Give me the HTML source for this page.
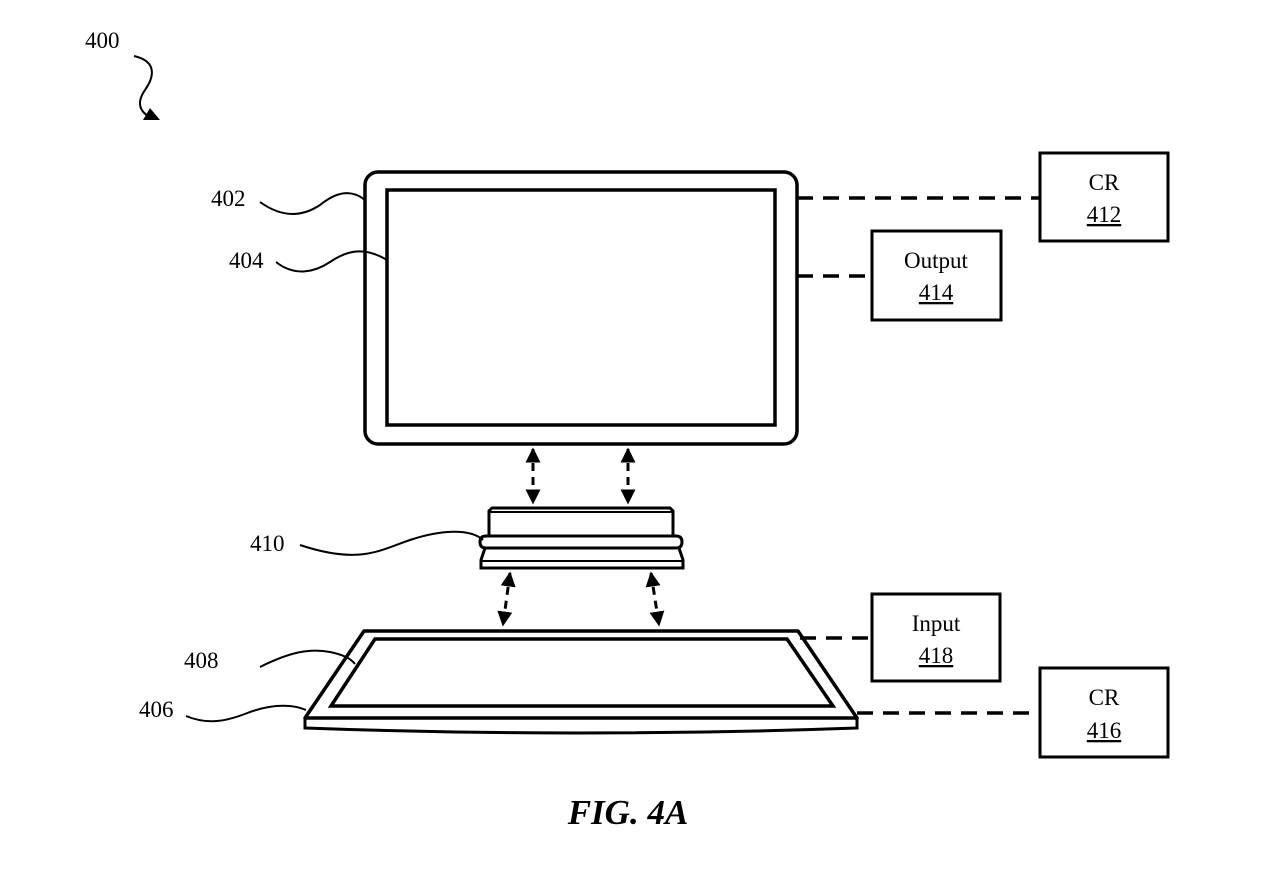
<!DOCTYPE html>
<html><head><meta charset="utf-8"><style>
html,body{margin:0;padding:0;background:#fff;}
svg{display:block;}
text{font-family:"Liberation Serif",serif;font-size:23px;fill:#000;}
</style></head><body>
<svg width="1274" height="876" viewBox="0 0 1274 876" xmlns="http://www.w3.org/2000/svg">
<defs>
<marker id="ah" viewBox="0 0 10 10" refX="9" refY="5" markerWidth="5" markerHeight="5" orient="auto-start-reverse"><path d="M0,0 L10,5 L0,10 z" fill="#000"/></marker>
</defs>
<g fill="none" stroke="#000">
<path d="M134,56 C160,62 152,80 145,90 C136,103 140,112 150,117" stroke-width="2"/>
<path d="M143,120 L160,120 L150,108 z" fill="#000" stroke="none"/>
<rect x="365" y="172" width="432" height="272" rx="13" stroke-width="3.5"/>
<rect x="387" y="190" width="388" height="235" stroke-width="3.5"/>
<path d="M260,202 C285,220 305,215 320,205 C335,193 350,188 365,200" stroke-width="2"/>
<path d="M276,262 C295,277 315,272 330,262 C345,252 362,245 387,260" stroke-width="2"/>
<path d="M300,545 C360,565 380,550 410,540 C440,530 470,528 483,540" stroke-width="2"/>
<path d="M260,667 C290,652 310,648 330,652 C345,655 352,660 355,664" stroke-width="2"/>
<path d="M186,716 C210,726 230,720 250,712 C275,703 295,705 306,710" stroke-width="2"/>
<path d="M797,198 H1040" stroke-width="3.5" stroke-dasharray="16,10"/>
<path d="M797,276 H871" stroke-width="3.5" stroke-dasharray="16,10"/>
<path d="M800,638 H871" stroke-width="3.5" stroke-dasharray="16,10"/>
<path d="M857,713 H1040" stroke-width="3.5" stroke-dasharray="16,10"/>
<rect x="1040" y="153" width="128" height="88" stroke-width="3"/>
<rect x="872" y="231" width="129" height="89" stroke-width="3"/>
<rect x="872" y="594" width="128" height="87" stroke-width="3"/>
<rect x="1040" y="668" width="128" height="89" stroke-width="3"/>
<path d="M533,449 V503" stroke-width="3" stroke-dasharray="8,6" marker-start="url(#ah)" marker-end="url(#ah)"/>
<path d="M628,449 V503" stroke-width="3" stroke-dasharray="8,6" marker-start="url(#ah)" marker-end="url(#ah)"/>
<path d="M510,573 L503,625" stroke-width="3" stroke-dasharray="8,6" marker-start="url(#ah)" marker-end="url(#ah)"/>
<path d="M651,573 L659,625" stroke-width="3" stroke-dasharray="8,6" marker-start="url(#ah)" marker-end="url(#ah)"/>
<path d="M489,535 V511 L492,508 H670 L673,511 V535" stroke-width="3"/>
<path d="M489,512 H673" stroke-width="2"/>
<path d="M486,536 H676 Q682,536 682,542 Q682,548 676,548 H486 Q480,548 480,542 Q480,536 486,536 z" stroke-width="3"/>
<path d="M485,548 L481,560 V568 H683 V560 L679,548" stroke-width="3"/>
<path d="M481,561 H683" stroke-width="2"/>
<path d="M364,631 H798 L857,718 H305 z" stroke-width="3.5" stroke-linejoin="round"/>
<path d="M375,639 H787 L833,706 H331 z" stroke-width="3.5"/>
<path d="M305,718 V728 Q580,738 857,728 V718" stroke-width="3"/>
</g>
<text x="85" y="48">400</text>
<text x="211" y="206">402</text>
<text x="229" y="268">404</text>
<text x="250" y="551">410</text>
<text x="184" y="668">408</text>
<text x="139" y="717">406</text>
<text x="1104" y="190" text-anchor="middle">CR</text>
<text x="1104" y="222" text-anchor="middle" text-decoration="underline">412</text>
<text x="936" y="268" text-anchor="middle">Output</text>
<text x="936" y="300" text-anchor="middle" text-decoration="underline">414</text>
<text x="936" y="631" text-anchor="middle">Input</text>
<text x="936" y="663" text-anchor="middle" text-decoration="underline">418</text>
<text x="1104" y="705" text-anchor="middle">CR</text>
<text x="1104" y="738" text-anchor="middle" text-decoration="underline">416</text>
<text x="628" y="824" text-anchor="middle" style="font-size:35px;font-weight:bold;font-style:italic">FIG. 4A</text>
</svg>
</body></html>
